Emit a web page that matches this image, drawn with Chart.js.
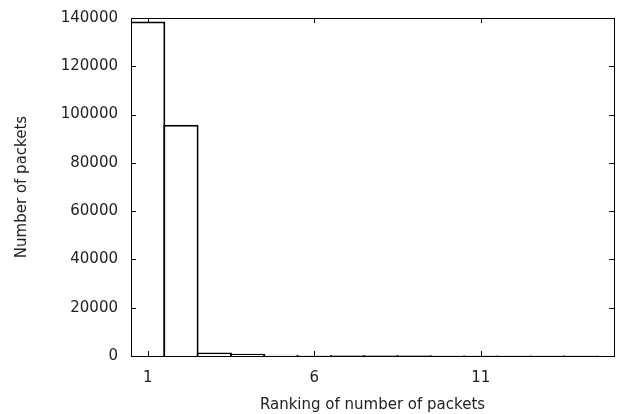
<!DOCTYPE html>
<html>
<head>
<meta charset="utf-8">
<script src="https://cdn.jsdelivr.net/npm/chart.js@4/dist/chart.umd.min.js"></script>
<style>
  html, body { margin: 0; padding: 0; background: #fff; }
  canvas { display: block; }
</style>
</head>
<body>
<canvas id="packets" width="617" height="414"></canvas>
<script>
// packets per rank, highest first
const ranks = [1, 2, 3, 4, 5, 6, 7, 8, 9, 10, 11, 12, 13, 14];
const packetCounts = [138500, 95800, 1400, 900, 520, 330, 300, 280, 260, 250, 240, 230, 220, 210];
const xTicks = [1, 6, 11];
const yTicks = [0, 20000, 40000, 60000, 80000, 100000, 120000, 140000];

const textColor = '#222';
const font = { family: 'DejaVu Sans', size: 15 };

// gnuplot-style border with mirrored inward ticks
const framePlugin = {
    id: 'frame',
    afterDatasetsDraw(chart) {
        const { ctx, chartArea: a, scales } = chart;
        const tick = 5;
        ctx.save();
        ctx.strokeStyle = '#000';
        ctx.lineWidth = 1;
        ctx.beginPath();
        yTicks.forEach((v) => {
            const y = Math.round(scales.y.getPixelForValue(v)) + 0.5;
            ctx.moveTo(a.left, y);
            ctx.lineTo(a.left + tick, y);
            ctx.moveTo(a.right, y);
            ctx.lineTo(a.right - tick, y);
        });
        xTicks.forEach((v) => {
            const x = Math.round(scales.x.getPixelForValue(v)) + 0.5;
            ctx.moveTo(x, a.bottom);
            ctx.lineTo(x, a.bottom - tick);
            ctx.moveTo(x, a.top);
            ctx.lineTo(x, a.top + tick);
        });
        ctx.stroke();
        ctx.strokeRect(Math.round(a.left) + 0.5, Math.round(a.top) + 0.5,
            Math.round(a.right - a.left), Math.round(a.bottom - a.top));
        ctx.restore();
    },
};

new Chart(document.getElementById('packets'), {
    type: 'bar',
    data: {
        datasets: [{
            data: ranks.map((r, i) => ({ x: r, y: packetCounts[i] })),
            backgroundColor: '#fff',
            borderColor: '#000',
            borderWidth: 2,
            // slight overlap so neighbouring outlines share one line
            barPercentage: 1.06,
            categoryPercentage: 1,
        }],
    },
    options: {
        responsive: false,
        animation: false,
        layout: { padding: { top: 18, right: 3, left: 0, bottom: 0 } },
        plugins: {
            legend: { display: false },
            tooltip: { enabled: false },
        },
        scales: {
            x: {
                type: 'linear',
                min: 0.5,
                max: 15,
                offset: false,
                afterBuildTicks(scale) {
                    scale.ticks = xTicks.map((v) => ({ value: v }));
                },
                afterFit(scale) {
                    scale.height = 58;
                    scale.paddingLeft = 0;
                    scale.paddingRight = 0;
                },
                grid: { display: false, drawTicks: false, offset: false },
                border: { display: false },
                ticks: { color: textColor, font, padding: 13, maxRotation: 0 },
                title: {
                    display: true,
                    text: 'Ranking of number of packets',
                    color: textColor,
                    font,
                    padding: { top: 0, bottom: 0 },
                },
            },
            y: {
                min: 0,
                max: 140000,
                afterBuildTicks(scale) {
                    scale.ticks = yTicks.map((v) => ({ value: v }));
                },
                afterFit(scale) {
                    scale.width = 131;
                    scale.paddingTop = 0;
                    scale.paddingBottom = 0;
                },
                grid: { display: false, drawTicks: false },
                border: { display: false },
                ticks: {
                    color: textColor,
                    font,
                    padding: 13,
                    callback: (v) => String(v),
                },
                title: {
                    display: true,
                    text: 'Number of packets',
                    color: textColor,
                    font,
                    padding: { top: 13, bottom: 0 },
                },
            },
        },
    },
    plugins: [framePlugin],
});
</script>
</body>
</html>
